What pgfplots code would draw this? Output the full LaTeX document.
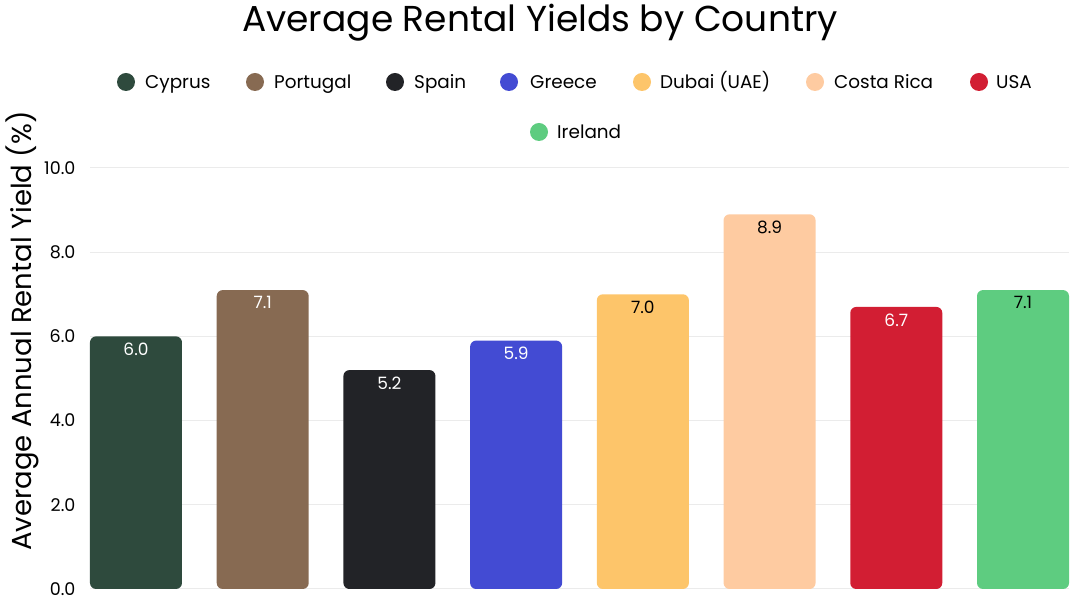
\documentclass[border=0pt]{standalone}
\usepackage{fontspec}
\setmainfont{Poppins}
\usepackage{pgfplots}
\pgfplotsset{compat=1.18}

\definecolor{cyprus}{HTML}{2E4A3D}
\definecolor{portugal}{HTML}{876A52}
\definecolor{spain}{HTML}{222327}
\definecolor{greece}{HTML}{434BD3}
\definecolor{dubai}{HTML}{FDC56A}
\definecolor{costarica}{HTML}{FECBA1}
\definecolor{usa}{HTML}{D21E33}
\definecolor{ireland}{HTML}{5ECC80}
\definecolor{gridgray}{HTML}{EBEBEB}

\newcommand{\lfont}{\fontsize{18.4}{22}\selectfont}
\newcommand{\bfont}{\fontsize{17}{20}\selectfont}
\newcommand{\tfont}{\fontsize{17.5}{20}\selectfont}

\begin{document}
\begin{tikzpicture}[x=1pt,y=1pt]
\useasboundingbox (0,0) rectangle (1080,607);
\begin{axis}[
	at={(90pt,18pt)}, anchor=south west,
	scale only axis, width=979pt, height=421pt,
	xmin=-0.363, xmax=7.363, ymin=0, ymax=10,
	axis line style={draw=none},
	xtick=\empty, ytick={0,2,4,6,8,10},
	tick style={draw=none},
	ymajorgrids, grid style={gridgray, line width=1pt},
	yticklabel style={font=\tfont, xshift=-11pt},
	y tick label style={/pgf/number format/.cd, fixed, fixed zerofill, precision=1, assume math mode=true},
	ybar, bar width=92pt, bar shift=0pt,
	nodes near coords={\pgfmathprintnumber[fixed,fixed zerofill,precision=1,assume math mode=true]{\pgfplotspointmeta}},
	every node near coord/.append style={anchor=north, yshift=-3pt, font=\bfont},
	every axis plot/.append style={draw=none, rounded corners=6pt},
	]
\addplot[fill=cyprus, every node near coord/.append style={text=white}] coordinates {(0,6.0)};
\addplot[fill=portugal, every node near coord/.append style={text=white}] coordinates {(1,7.1)};
\addplot[fill=spain, every node near coord/.append style={text=white}] coordinates {(2,5.2)};
\addplot[fill=greece, every node near coord/.append style={text=white}] coordinates {(3,5.9)};
\addplot[fill=dubai, every node near coord/.append style={text=black}] coordinates {(4,7.0)};
\addplot[fill=costarica, every node near coord/.append style={text=black}] coordinates {(5,8.9)};
\addplot[fill=usa, every node near coord/.append style={text=white}] coordinates {(6,6.7)};
\addplot[fill=ireland, every node near coord/.append style={text=black}] coordinates {(7,7.1)};
\end{axis}

% title and y label
\node at (540,584) {\fontsize{36}{42}\selectfont Average Rental Yields by Country};
\node[rotate=90] at (22,276) {\fontsize{27.5}{32}\selectfont Average Annual Rental Yield (\%)};

% legend
\fill[cyprus] (126,525) circle (9);
\node[anchor=base west, inner sep=0pt] at (145,518) {\lfont Cyprus};
\fill[portugal] (255,525) circle (9);
\node[anchor=base west, inner sep=0pt] at (274,518) {\lfont Portugal};
\fill[spain] (395,525) circle (9);
\node[anchor=base west, inner sep=0pt] at (414,518) {\lfont Spain};
\fill[greece] (509,525) circle (9);
\node[anchor=base west, inner sep=0pt] at (530,518) {\lfont Greece};
\fill[dubai] (642,525) circle (9);
\node[anchor=base west, inner sep=0pt] at (660,518) {\lfont Dubai (UAE)};
\fill[costarica] (815,525) circle (9);
\node[anchor=base west, inner sep=0pt] at (834,518) {\lfont Costa Rica};
\fill[usa] (979,525) circle (9);
\node[anchor=base west, inner sep=0pt] at (996,518) {\lfont USA};
\fill[ireland] (539,475) circle (9);
\node[anchor=base west, inner sep=0pt] at (557,468) {\lfont Ireland};
\end{tikzpicture}
\end{document}
